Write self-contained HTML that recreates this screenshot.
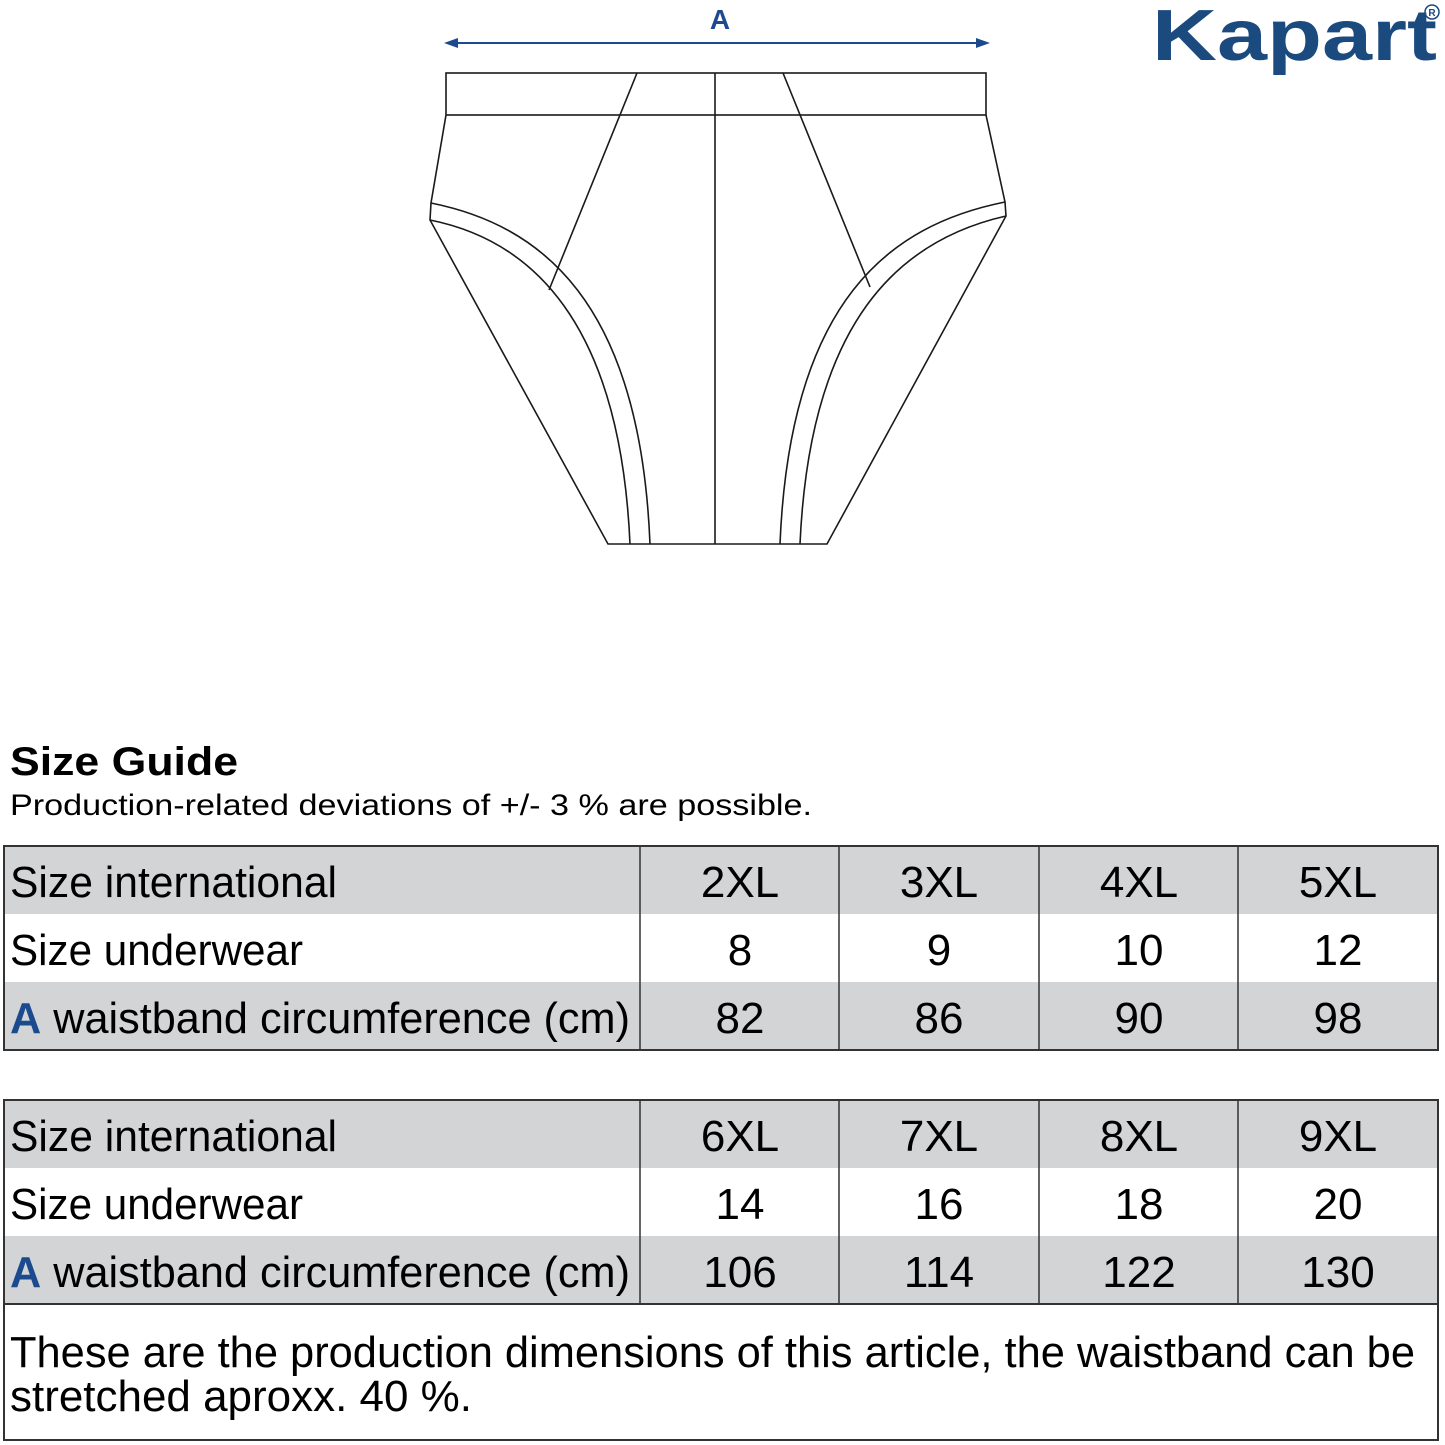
<!DOCTYPE html>
<html><head><meta charset="utf-8"><style>
html,body{margin:0;padding:0;background:#fff}
svg{display:block}
text{font-family:"Liberation Sans",sans-serif}
</style></head><body>
<svg width="1445" height="1445" viewBox="0 0 1445 1445" xmlns="http://www.w3.org/2000/svg">
<!-- logo -->
<text x="1152" y="60" font-size="72" font-weight="bold" fill="#1b4a7f" textLength="285" lengthAdjust="spacingAndGlyphs">Kapart</text>
<circle cx="1432" cy="12" r="7" fill="none" stroke="#1b4a7f" stroke-width="1.5"/>
<text x="1432" y="16" font-size="10" font-weight="bold" fill="#1b4a7f" text-anchor="middle">R</text>
<!-- dimension arrow -->
<text x="720" y="29" font-size="28" font-weight="bold" fill="#1b4a8f" text-anchor="middle">A</text>
<line x1="452" y1="43" x2="982" y2="43" stroke="#1b4a8f" stroke-width="2"/>
<polygon points="444,43 458,38 458,48" fill="#1b4a8f"/>
<polygon points="990,43 976,38 976,48" fill="#1b4a8f"/>
<!-- garment -->
<g fill="none" stroke="#1a1a1a" stroke-width="1.6">
<rect x="446" y="73" width="540" height="42"/>
<line x1="715" y1="73" x2="715" y2="544"/>
<path d="M446,115 L431,203 L430,220 L608,544 L827,544 L1006,216 L1005,202 L986,115"/>
<path d="M431,203 C540,225 640,300 650,544"/>
<path d="M430,220 C530,240 620,320 630,544"/>
<path d="M1005,202 C890,225 790,300 780,544"/>
<path d="M1006,216 C900,240 810,320 800,544"/>
<line x1="637" y1="73" x2="549" y2="290"/>
<line x1="783" y1="73" x2="870" y2="287"/>
</g>
<!-- heading -->
<text x="10" y="775" font-size="40" font-weight="bold" fill="#000" textLength="228" lengthAdjust="spacingAndGlyphs">Size Guide</text>
<text x="10" y="815" font-size="30" fill="#000" textLength="802" lengthAdjust="spacingAndGlyphs">Production-related deviations of +/- 3 % are possible.</text>
<!-- table 1 -->
<rect x="4" y="846" width="1434" height="68" fill="#d3d4d6"/>
<rect x="4" y="982" width="1434" height="68" fill="#d3d4d6"/>
<rect x="4" y="846" width="1434" height="204" fill="none" stroke="#333" stroke-width="2"/>
<g stroke="#333" stroke-width="1.5"><line x1="640" y1="846" x2="640" y2="1050"/><line x1="839" y1="846" x2="839" y2="1050"/><line x1="1039" y1="846" x2="1039" y2="1050"/><line x1="1238" y1="846" x2="1238" y2="1050"/></g>
<g font-size="44" fill="#000">
<text x="10" y="897" textLength="327" lengthAdjust="spacingAndGlyphs">Size international</text>
<text x="10" y="965" textLength="293" lengthAdjust="spacingAndGlyphs">Size underwear</text>
<text x="10" y="1033" textLength="620" lengthAdjust="spacingAndGlyphs"><tspan fill="#1b4a8f" font-weight="bold">A</tspan> waistband circumference (cm)</text>
<g text-anchor="middle">
<text x="740" y="897">2XL</text><text x="939" y="897">3XL</text><text x="1139" y="897">4XL</text><text x="1338" y="897">5XL</text>
<text x="740" y="965">8</text><text x="939" y="965">9</text><text x="1139" y="965">10</text><text x="1338" y="965">12</text>
<text x="740" y="1033">82</text><text x="939" y="1033">86</text><text x="1139" y="1033">90</text><text x="1338" y="1033">98</text>
</g></g>
<!-- table 2 -->
<rect x="4" y="1100" width="1434" height="68" fill="#d3d4d6"/>
<rect x="4" y="1236" width="1434" height="68" fill="#d3d4d6"/>
<rect x="4" y="1100" width="1434" height="340" fill="none" stroke="#333" stroke-width="2"/>
<line x1="4" y1="1304" x2="1438" y2="1304" stroke="#333" stroke-width="2"/>
<g stroke="#333" stroke-width="1.5"><line x1="640" y1="1100" x2="640" y2="1304"/><line x1="839" y1="1100" x2="839" y2="1304"/><line x1="1039" y1="1100" x2="1039" y2="1304"/><line x1="1238" y1="1100" x2="1238" y2="1304"/></g>
<g font-size="44" fill="#000">
<text x="10" y="1151" textLength="327" lengthAdjust="spacingAndGlyphs">Size international</text>
<text x="10" y="1219" textLength="293" lengthAdjust="spacingAndGlyphs">Size underwear</text>
<text x="10" y="1287" textLength="620" lengthAdjust="spacingAndGlyphs"><tspan fill="#1b4a8f" font-weight="bold">A</tspan> waistband circumference (cm)</text>
<g text-anchor="middle">
<text x="740" y="1151">6XL</text><text x="939" y="1151">7XL</text><text x="1139" y="1151">8XL</text><text x="1338" y="1151">9XL</text>
<text x="740" y="1219">14</text><text x="939" y="1219">16</text><text x="1139" y="1219">18</text><text x="1338" y="1219">20</text>
<text x="740" y="1287">106</text><text x="939" y="1287">114</text><text x="1139" y="1287">122</text><text x="1338" y="1287">130</text>
</g>
<text x="10" y="1367" textLength="1405" lengthAdjust="spacingAndGlyphs">These are the production dimensions of this article, the waistband can be</text>
<text x="10" y="1411" textLength="462" lengthAdjust="spacingAndGlyphs">stretched aproxx. 40 %.</text>
</g>
</svg>
</body></html>
